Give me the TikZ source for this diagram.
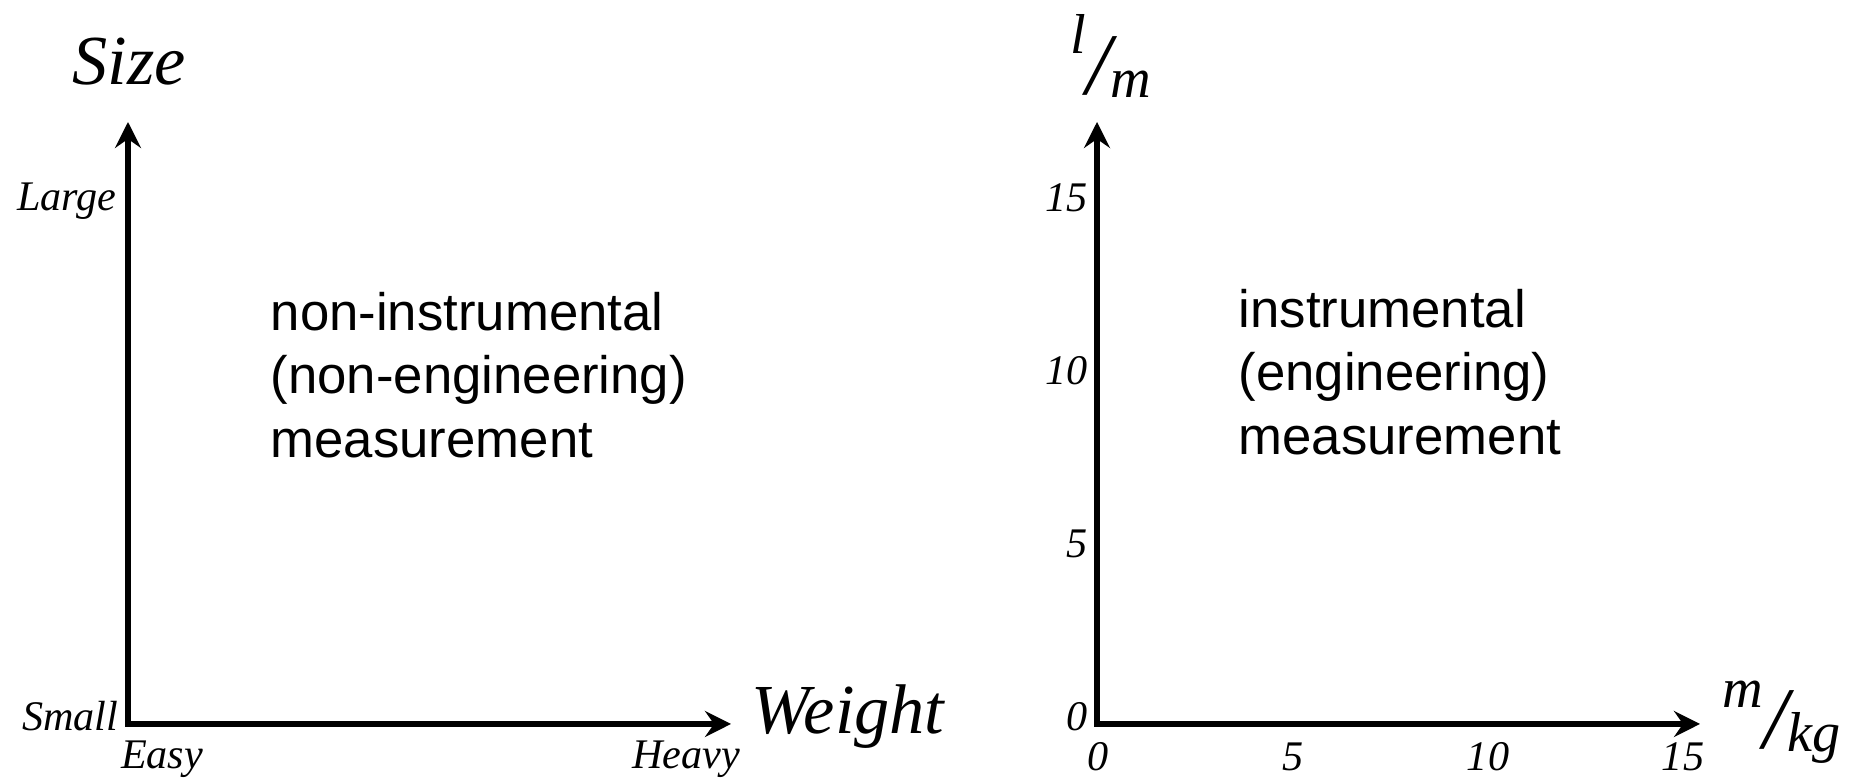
\documentclass[tikz,border=0pt]{standalone}
\usepackage{fontspec}
\setmainfont{Liberation Serif}
\newfontfamily\notefont{Liberation Sans}
\usetikzlibrary{arrows.meta}
\definecolor{plotink}{HTML}{000000}
\newcommand{\perunit}[2]{\raisebox{11.7pt}{#1}{\fontsize{25}{25}\selectfont/}\raisebox{-0.8pt}{#2}}
\tikzset{
  axisline/.style={{Stealth[length=2.6mm,width=2.6mm,inset=0.9mm]}-{Stealth[length=2.6mm,width=2.6mm,inset=0.9mm]},
    draw=plotink, line width=1.45pt},
  axistitle/.style={font=\fontsize{20}{24}\selectfont\itshape, text=plotink, inner sep=0pt},
  endlabel/.style={font=\fontsize{12}{14}\selectfont\itshape, text=plotink, inner sep=0pt},
  ticklabel/.style={font=\fontsize{12}{14}\selectfont\itshape, text=plotink, inner sep=0pt},
  unitlabel/.style={font=\fontsize{16}{18}\selectfont\itshape, text=plotink, inner sep=0pt},
  notetext/.style={font=\notefont\fontsize{15}{18}\selectfont, text=plotink, align=left, inner sep=0pt}
}

\begin{document}
\begin{tikzpicture}[x=1cm,y=1cm]
  \useasboundingbox (0,0) rectangle (18.55,7.83);
  % left panel: ordinal, non-instrumental scale
  \coordinate (lo) at (1.28,.59);
  \coordinate (ly) at (1.28,6.61);
  \coordinate (lx) at (7.31,.59);
  \draw[axisline] (ly) -- (lo) -- (lx);
  \node[axistitle] (size) at (1.29,7.21) {Size};
  \node[axistitle] (weight) at (8.48,.66) {Weight};
  \node[endlabel, anchor=east] (large) at (1.17,5.82) {Large};
  \node[endlabel, anchor=east] (small) at (1.19,.67) {Small};
  \node[endlabel] (easy) at (1.62,.24) {Easy};
  \node[endlabel] (heavy) at (6.86,.24) {Heavy};
  \node[notetext, anchor=west] (nonins) at (2.70,4.08) {non-instrumental\\(non-engineering)\\measurement};

  % right panel: quantities with units
  \coordinate (ro) at (10.97,.59);
  \coordinate (ry) at (10.97,6.61);
  \coordinate (rx) at (17.00,.59);
  \draw[axisline] (ry) -- (ro) -- (rx);
  \foreach \v [count=\i from 0] in {0,5,10,15} {
    \node[ticklabel, anchor=east] (ytick\v) at (10.88,.66+1.73*\i) {\v};
    \node[ticklabel] (xtick\v) at (10.98+1.95*\i,.26) {\v};
  }
  \node[unitlabel] (lunit) at (11.11,7.27) {\perunit{l}{m}};
  \node[unitlabel] (munit) at (17.82,.61) {\perunit{m}{kg}};
  \node[notetext, anchor=west] (ins) at (12.38,4.11) {instrumental\\(engineering)\\measurement};
\end{tikzpicture}
\end{document}
